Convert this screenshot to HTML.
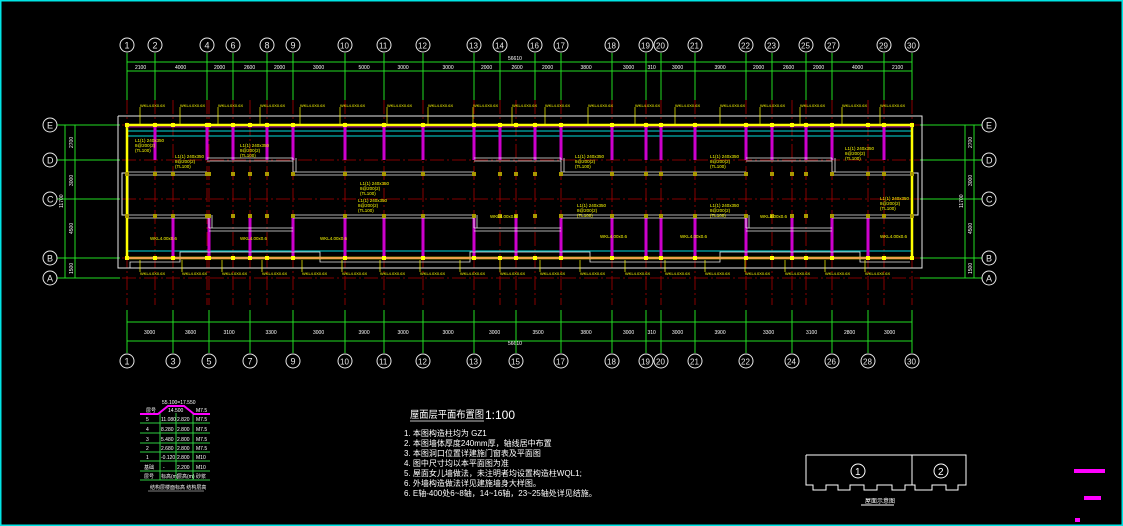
<!DOCTYPE html>
<html><head><meta charset="utf-8"><style>
html,body{margin:0;padding:0;background:#000;overflow:hidden}
svg{display:block}
text{font-family:"Liberation Sans","Noto Sans CJK SC",sans-serif}
</style></head><body>
<svg id="s" width="1123" height="526" viewBox="0 0 1123 526" xmlns="http://www.w3.org/2000/svg">
<rect x="0" y="0" width="1123" height="526" fill="#000"/>
<rect x="0.5" y="0.5" width="1122" height="525" fill="none" stroke="#00e5e5" stroke-width="2"/>
<g id="g"></g>
<g stroke="#2ecc40" stroke-width="1" fill="none">
<line x1="140" y1="423" x2="210" y2="423"/><line x1="140" y1="433" x2="210" y2="433"/>
<line x1="140" y1="443" x2="210" y2="443"/><line x1="140" y1="452" x2="210" y2="452"/>
<line x1="140" y1="461" x2="210" y2="461"/><line x1="140" y1="471" x2="210" y2="471"/>
<line x1="140" y1="480" x2="210" y2="480"/>
<line x1="160" y1="413" x2="160" y2="480"/><line x1="176" y1="413" x2="176" y2="480"/><line x1="193" y1="413" x2="193" y2="480"/>
</g>
<polyline points="140,414 158,414 168,406 184,406 194,414 210,414" fill="none" stroke="#ff00ff" stroke-width="2"/>
<g fill="#fff" font-size="5">
<text x="162" y="404">55.100=17.550</text><text x="168" y="412">14.500</text>
<text x="146" y="412">层号</text><text x="196" y="412">M7.5</text>
<text x="146" y="421">5</text><text x="161" y="421">11.080</text><text x="177" y="421">2.820</text><text x="196" y="421">M7.5</text>
<text x="146" y="431">4</text><text x="161" y="431">8.280</text><text x="177" y="431">2.800</text><text x="196" y="431">M7.5</text>
<text x="146" y="441">3</text><text x="161" y="441">5.480</text><text x="177" y="441">2.800</text><text x="196" y="441">M7.5</text>
<text x="146" y="450">2</text><text x="161" y="450">2.680</text><text x="177" y="450">2.800</text><text x="196" y="450">M7.5</text>
<text x="146" y="459">1</text><text x="161" y="459">-0.120</text><text x="177" y="459">2.800</text><text x="196" y="459">M10</text>
<text x="144" y="469">基础</text><text x="163" y="469">-</text><text x="177" y="469">2.200</text><text x="196" y="469">M10</text>
<text x="144" y="478">层号</text><text x="161" y="478">标高(m)</text><text x="177" y="478">层高(m)</text><text x="196" y="478">砂浆</text>
<text x="150" y="489">结构层楼面标高 结构层高</text>
</g>
<line x1="148" y1="491" x2="204" y2="491" stroke="#fff" stroke-width="0.6"/>
<g fill="#fff">
<text x="410" y="418" font-size="10" textLength="74" lengthAdjust="spacingAndGlyphs">屋面层平面布置图</text>
<text x="485" y="419" font-size="12">1:100</text>
<line x1="410" y1="421" x2="484" y2="421" stroke="#fff" stroke-width="0.8"/>
<g font-size="8">
<text x="404" y="436">1. 本图构造柱均为 GZ1</text>
<text x="404" y="446">2. 本图墙体厚度240mm厚，轴线居中布置</text>
<text x="404" y="456">3. 本图洞口位置详建施门窗表及平面图</text>
<text x="404" y="466">4. 图中尺寸均以本平面图为准</text>
<text x="404" y="476">5. 屋面女儿墙做法，未注明者均设置构造柱WQL1;</text>
<text x="404" y="486">6. 外墙构造做法详见建施墙身大样图。</text>
<text x="404" y="496">6. E轴-400处6~8轴，14~16轴，23~25轴处详见结施。</text>
</g></g>
<g stroke="#fff" fill="none" stroke-width="1">
<polyline points="806,455 966,455 966,485 958,485 958,490 946,490 946,485 932,485 932,490 915,490 915,485 905,485 905,490 892,490 892,485 877,485 877,490 864,490 864,485 850,485 850,490 838,490 838,485 826,485 826,490 813,490 813,485 806,485 806,455"/>
<line x1="912" y1="455" x2="912" y2="485"/>
<circle cx="858" cy="471" r="7"/><circle cx="941" cy="471" r="7"/>
<line x1="861" y1="505" x2="894" y2="505"/>
</g>
<text x="855" y="475" font-size="10" fill="#fff">1</text><text x="938" y="475" font-size="10" fill="#fff">2</text>
<text x="865" y="503" font-size="6" fill="#fff">屋面示意图</text>
<rect x="1074" y="469" width="31" height="4" fill="#ff00ff"/>
<rect x="1084" y="496" width="17" height="4" fill="#ff00ff"/>
<rect x="1075" y="518" width="5" height="4" fill="#ff00ff"/>
</svg>
<script>
(function(){
var g=document.getElementById('g'),NS='http://www.w3.org/2000/svg';
function el(t,a,txt){var e=document.createElementNS(NS,t);for(var k in a)e.setAttribute(k,a[k]);if(txt!=null)e.textContent=txt;g.appendChild(e);return e;}
function L(x1,y1,x2,y2,c,w,d){var a={x1:x1,y1:y1,x2:x2,y2:y2,stroke:c,'stroke-width':w||1};if(d)a['stroke-dasharray']=d;el('line',a);}
function T(x,y,s,c,fs){el('text',{x:x,y:y,fill:c,'font-size':fs||4.5},s);}
var G='#22dd22',R='#aa0000',Y='#ffff00',W='#e8e8e8',M='#cc00cc',C='#00dddd';
var TA=[[1,127],[2,155],[4,207],[6,233],[8,267],[9,293],[10,345],[11,384],[12,423],[13,474],[14,500],[16,535],[17,561],[18,612],[19,646],[20,661],[21,695],[22,746],[23,772],[25,806],[27,832],[29,884],[30,912]];
var BA=[[1,127],[3,173],[5,209],[7,250],[9,293],[10,345],[11,384],[12,423],[13,474],[15,516],[17,561],[18,612],[19,646],[20,661],[21,695],[22,746],[24,792],[26,832],[28,868],[30,912]];
var rows=[['E',125],['D',160],['C',199],['B',258],['A',278]];
var all={};TA.concat(BA).forEach(function(a){all[a[1]]=1;});
Object.keys(all).forEach(function(x){L(+x,100,+x,305,R,0.8,'14 3 2 3');});
rows.forEach(function(r){L(100,r[1],940,r[1],R,0.8,'14 3 2 3');});
L(127,62,912,62,G,1);L(127,71,912,71,G,1);
T(508,60,'56610','#fff',5);
var tdim=['2100','4000','2000','2600','2000','3000','5000','3000','3000','2000','2600','2000','3800','3000','310','3000','3900','2000','2600','2000','4000','2100'];
TA.forEach(function(a,i){L(a[1],53,a[1],100,G,1);el('circle',{cx:a[1],cy:45,r:7,fill:'#000',stroke:W,'stroke-width':1});T(a[1]-(a[0]>9?5:2.5),48.5,a[0],W,a[0]>9?8:9);
 if(i<tdim.length){var m=(a[1]+TA[i+1][1])/2;T(m-6,69,tdim[i],'#fff',5);}});
L(127,322,912,322,G,1);L(127,341,912,341,G,1);T(508,345,'56610','#fff',5);
var bdim=['3000','3600','3100','3300','3000','3900','3000','3000','3000','3500','3800','3000','310','3000','3900','3300','3100','2800','3000'];
BA.forEach(function(a,i){L(a[1],310,a[1],353,G,1);el('circle',{cx:a[1],cy:361,r:7,fill:'#000',stroke:W,'stroke-width':1});T(a[1]-(a[0]>9?5:2.5),364.5,a[0],W,a[0]>9?8:9);
 if(i<bdim.length){var m=(a[1]+BA[i+1][1])/2;T(m-6,334,bdim[i],'#fff',5);}});
L(65,125,65,278,G,1);L(75,125,75,278,G,1);L(965,125,965,278,G,1);L(974,125,974,278,G,1);
rows.forEach(function(r){L(57,r[1],120,r[1],G,1);L(920,r[1],982,r[1],G,1);
 [50,989].forEach(function(x){el('circle',{cx:x,cy:r[1],r:7,fill:'#000',stroke:W,'stroke-width':1});T(x-3,r[1]+3.5,r[0],W,9);});});
[['2700',142],['3000',180],['4500',228],['1500',268]].forEach(function(d){el('text',{x:0,y:0,fill:'#fff','font-size':5,transform:'translate(73,'+(d[1]+6)+') rotate(-90)'},d[0]);el('text',{x:0,y:0,fill:'#fff','font-size':5,transform:'translate(972,'+(d[1]+6)+') rotate(-90)'},d[0]);});
el('text',{x:0,y:0,fill:'#fff','font-size':5,transform:'translate(63,208) rotate(-90)'},'11700');
el('text',{x:0,y:0,fill:'#fff','font-size':5,transform:'translate(963,208) rotate(-90)'},'11700');
el('polyline',{points:'118,116 922,116 922,268 118,268 118,116',fill:'none',stroke:W,'stroke-width':1});
el('rect',{x:122,y:173,width:6,height:42,fill:'none',stroke:W,'stroke-width':1});
el('rect',{x:912,y:173,width:6,height:42,fill:'none',stroke:W,'stroke-width':1});
L(127,131,912,131,C,1);L(127,136,912,136,C,1);L(127,251,912,251,C,1);
[155,207,233,267,293,345,384,423,474,500,535,561,612,646,661,695,746,772,806,832,884].forEach(function(x){el('rect',{x:x-1.5,y:126,width:3,height:34,fill:M});});
[173,209,250,293,345,384,423,474,516,561,612,646,661,695,746,792,832,868].forEach(function(x){el('rect',{x:x-1.5,y:216,width:3,height:42,fill:M});});
function WL(x1,y1,x2,y2){L(x1,y1,x2,y2,W,0.8);L(x1+(y1==y2?0:3),y1+(y1==y2?3:0),x2+(y1==y2?0:3),y2+(y1==y2?3:0),W,0.8);}
WL(127,172,207,172);WL(207,158,293,158);WL(293,158,293,172);WL(293,172,474,172);WL(474,158,561,158);WL(561,158,561,172);WL(561,172,746,172);WL(746,158,832,158);WL(832,158,832,172);WL(832,172,912,172);
WL(127,215,209,215);WL(209,215,209,228);WL(209,228,293,228);WL(293,215,474,215);WL(474,215,474,228);WL(474,228,561,228);WL(561,215,746,215);WL(746,215,746,228);WL(746,228,832,228);WL(832,215,912,215);
el('polyline',{points:'130,268 130,262 180,262 180,252 320,252 320,262 470,262 470,252 590,252 590,262 720,262 720,252 860,252 860,262 910,262',fill:'none',stroke:W,'stroke-width':0.8});
L(127,125,912,125,Y,2.5);L(127,258,912,258,Y,2.5);L(127,125,127,258,Y,2.5);L(912,125,912,258,Y,2.5);
L(127,258,912,258,M,0.7);L(127,127,912,127,M,0.7);
TA.concat(BA).forEach(function(a){el('rect',{x:a[1]-2,y:123,width:4,height:4,fill:Y});el('rect',{x:a[1]-2,y:256,width:4,height:4,fill:Y});el('rect',{x:a[1]-2,y:172,width:4,height:4,fill:'#aa9900'});el('rect',{x:a[1]-2,y:214,width:4,height:4,fill:'#aa9900'});});
[140,180,218,260,300,340,387,428,473,512,545,588,635,675,720,760,800,842,880].forEach(function(x){L(x,107,x,124,Y,0.7);T(x,107,'WKL4.0X0.6X','#ffff00',4);});
[140,182,222,262,302,342,380,420,460,500,540,580,625,665,705,745,785,825,865].forEach(function(x){L(x,260,x,272,Y,0.7);T(x,275,'WKL4.0X0.6X','#ffff00',4);});
[[135,142],[175,158],[240,147],[360,185],[358,202],[575,158],[577,207],[710,158],[710,207],[845,150],[880,200]].forEach(function(p){T(p[0],p[1],'L1(1) 240x350',Y,4.5);T(p[0],p[1]+5,'8@200(2)',Y,4.5);T(p[0],p[1]+10,'(TL100)',Y,4.5);});
[[150,240],[240,240],[320,240],[490,218],[600,238],[680,238],[760,218],[880,238]].forEach(function(p){T(p[0],p[1],'WKL4.00x0.6',Y,4.5);});
})();
</script>
</body></html>
